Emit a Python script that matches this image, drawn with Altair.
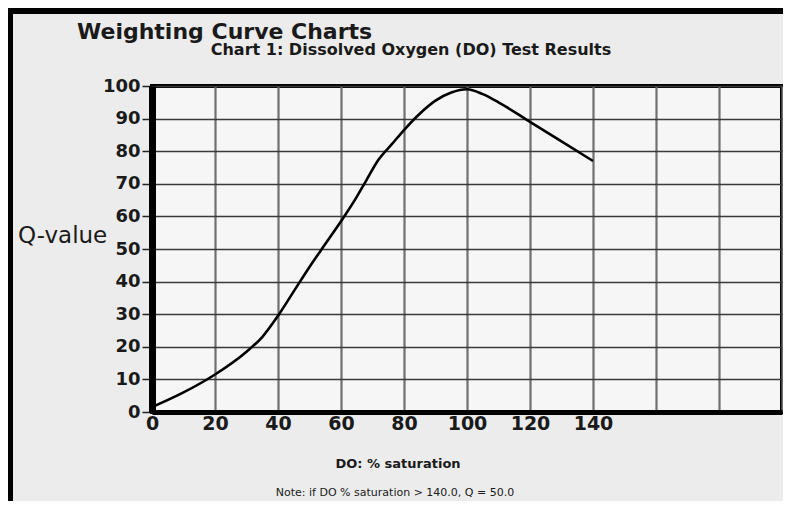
import altair as alt
import pandas as pd

# Curve values
do_sat = [0, 10, 20, 30, 35, 40, 45, 50, 55, 60, 65, 68, 72, 76, 80, 85, 90, 95, 100, 105, 110, 120, 130, 140]
q_val = [1.5, 6, 11.5, 18.5, 23, 29.5, 37, 44.5, 51.5, 58.5, 66, 71, 77.5, 82, 86.5, 91.5, 95.5, 98, 99, 97.5, 95, 89, 83, 77]

x_ticks = [0, 20, 40, 60, 80, 100, 120, 140, 160, 180, 200]
y_ticks = [0, 10, 20, 30, 40, 50, 60, 70, 80, 90, 100]

title_text = "Weighting Curve Charts"
subtitle_text = "Chart 1: Dissolved Oxygen (DO) Test Results"
y_title = "Q-value"
x_title = "DO: % saturation"
note_text = "Note: if DO % saturation > 140.0, Q = 50.0"

W, H = 630, 326
FONT = "DejaVu Sans"

df = pd.DataFrame({"do": do_sat, "q": q_val})

xscale = alt.Scale(domain=[0, 200], nice=False, zero=False)
yscale = alt.Scale(domain=[0, 100], nice=False)

x_axis = alt.Axis(values=x_ticks, labelExpr="datum.value <= 140 ? datum.label : ''",
                  labelFont=FONT, labelFontSize=19, labelFontWeight="bold", labelColor="#1a1a1a",
                  ticks=False, labelPadding=2, labelFlush=False,
                  domain=True, domainColor="black", domainWidth=5,
                  grid=True, gridColor="#707070", gridWidth=2.2, title=None)
y_axis = alt.Axis(values=y_ticks, labelFont=FONT, labelFontSize=18, labelFontWeight="bold",
                  labelColor="#1a1a1a", tickColor="#222", tickSize=10, tickWidth=1.5,
                  labelPadding=2, labelFlush=False,
                  domain=True, domainColor="black", domainWidth=7,
                  grid=True, gridColor="#3a3a3a", gridWidth=1.3, title=None)

line = alt.Chart(df).mark_line(color="black", strokeWidth=2.6, interpolate="monotone").encode(
    x=alt.X("do:Q", scale=xscale, axis=x_axis),
    y=alt.Y("q:Q", scale=yscale, axis=y_axis),
)

def label(text, x, y, size, weight="normal", align="left", color="#1a1a1a"):
    return alt.Chart(pd.DataFrame({"t": [text]})).mark_text(
        font=FONT, fontSize=size, fontWeight=weight, align=align, baseline="alphabetic",
        color=color, clip=False
    ).encode(text="t:N", x=alt.value(x), y=alt.value(y))

texts = [
    label(title_text, -75, -47, 22, "bold"),
    label(subtitle_text, 259, -31, 16, "bold", "center"),
    label(y_title, -134, 157, 23),
    label(x_title, 246, 382, 13, "bold", "center"),
    label(note_text, 243, 410, 11, "normal", "center"),
]

# scan border strips (black)
border_l = alt.Chart(pd.DataFrame({"k": [0]})).mark_rect(color="black", clip=False).encode(
    x=alt.value(-144), x2=alt.value(-139), y=alt.value(-78), y2=alt.value(H + 89))
border_t = alt.Chart(pd.DataFrame({"k": [0]})).mark_rect(color="black", clip=False).encode(
    x=alt.value(-144), x2=alt.value(W + 1), y=alt.value(-78), y2=alt.value(-72))

chart = alt.layer(line, *texts, border_l, border_t).properties(
    width=W, height=H,
    autosize=alt.AutoSizeParams(type="none"),
    padding={"left": 144, "top": 78, "right": 1, "bottom": 89},
    background="#ececec",
).configure_view(stroke="black", strokeWidth=4, fill="#f6f6f6")

chart.save("out.html", embed_options={"renderer": "svg", "actions": False})
